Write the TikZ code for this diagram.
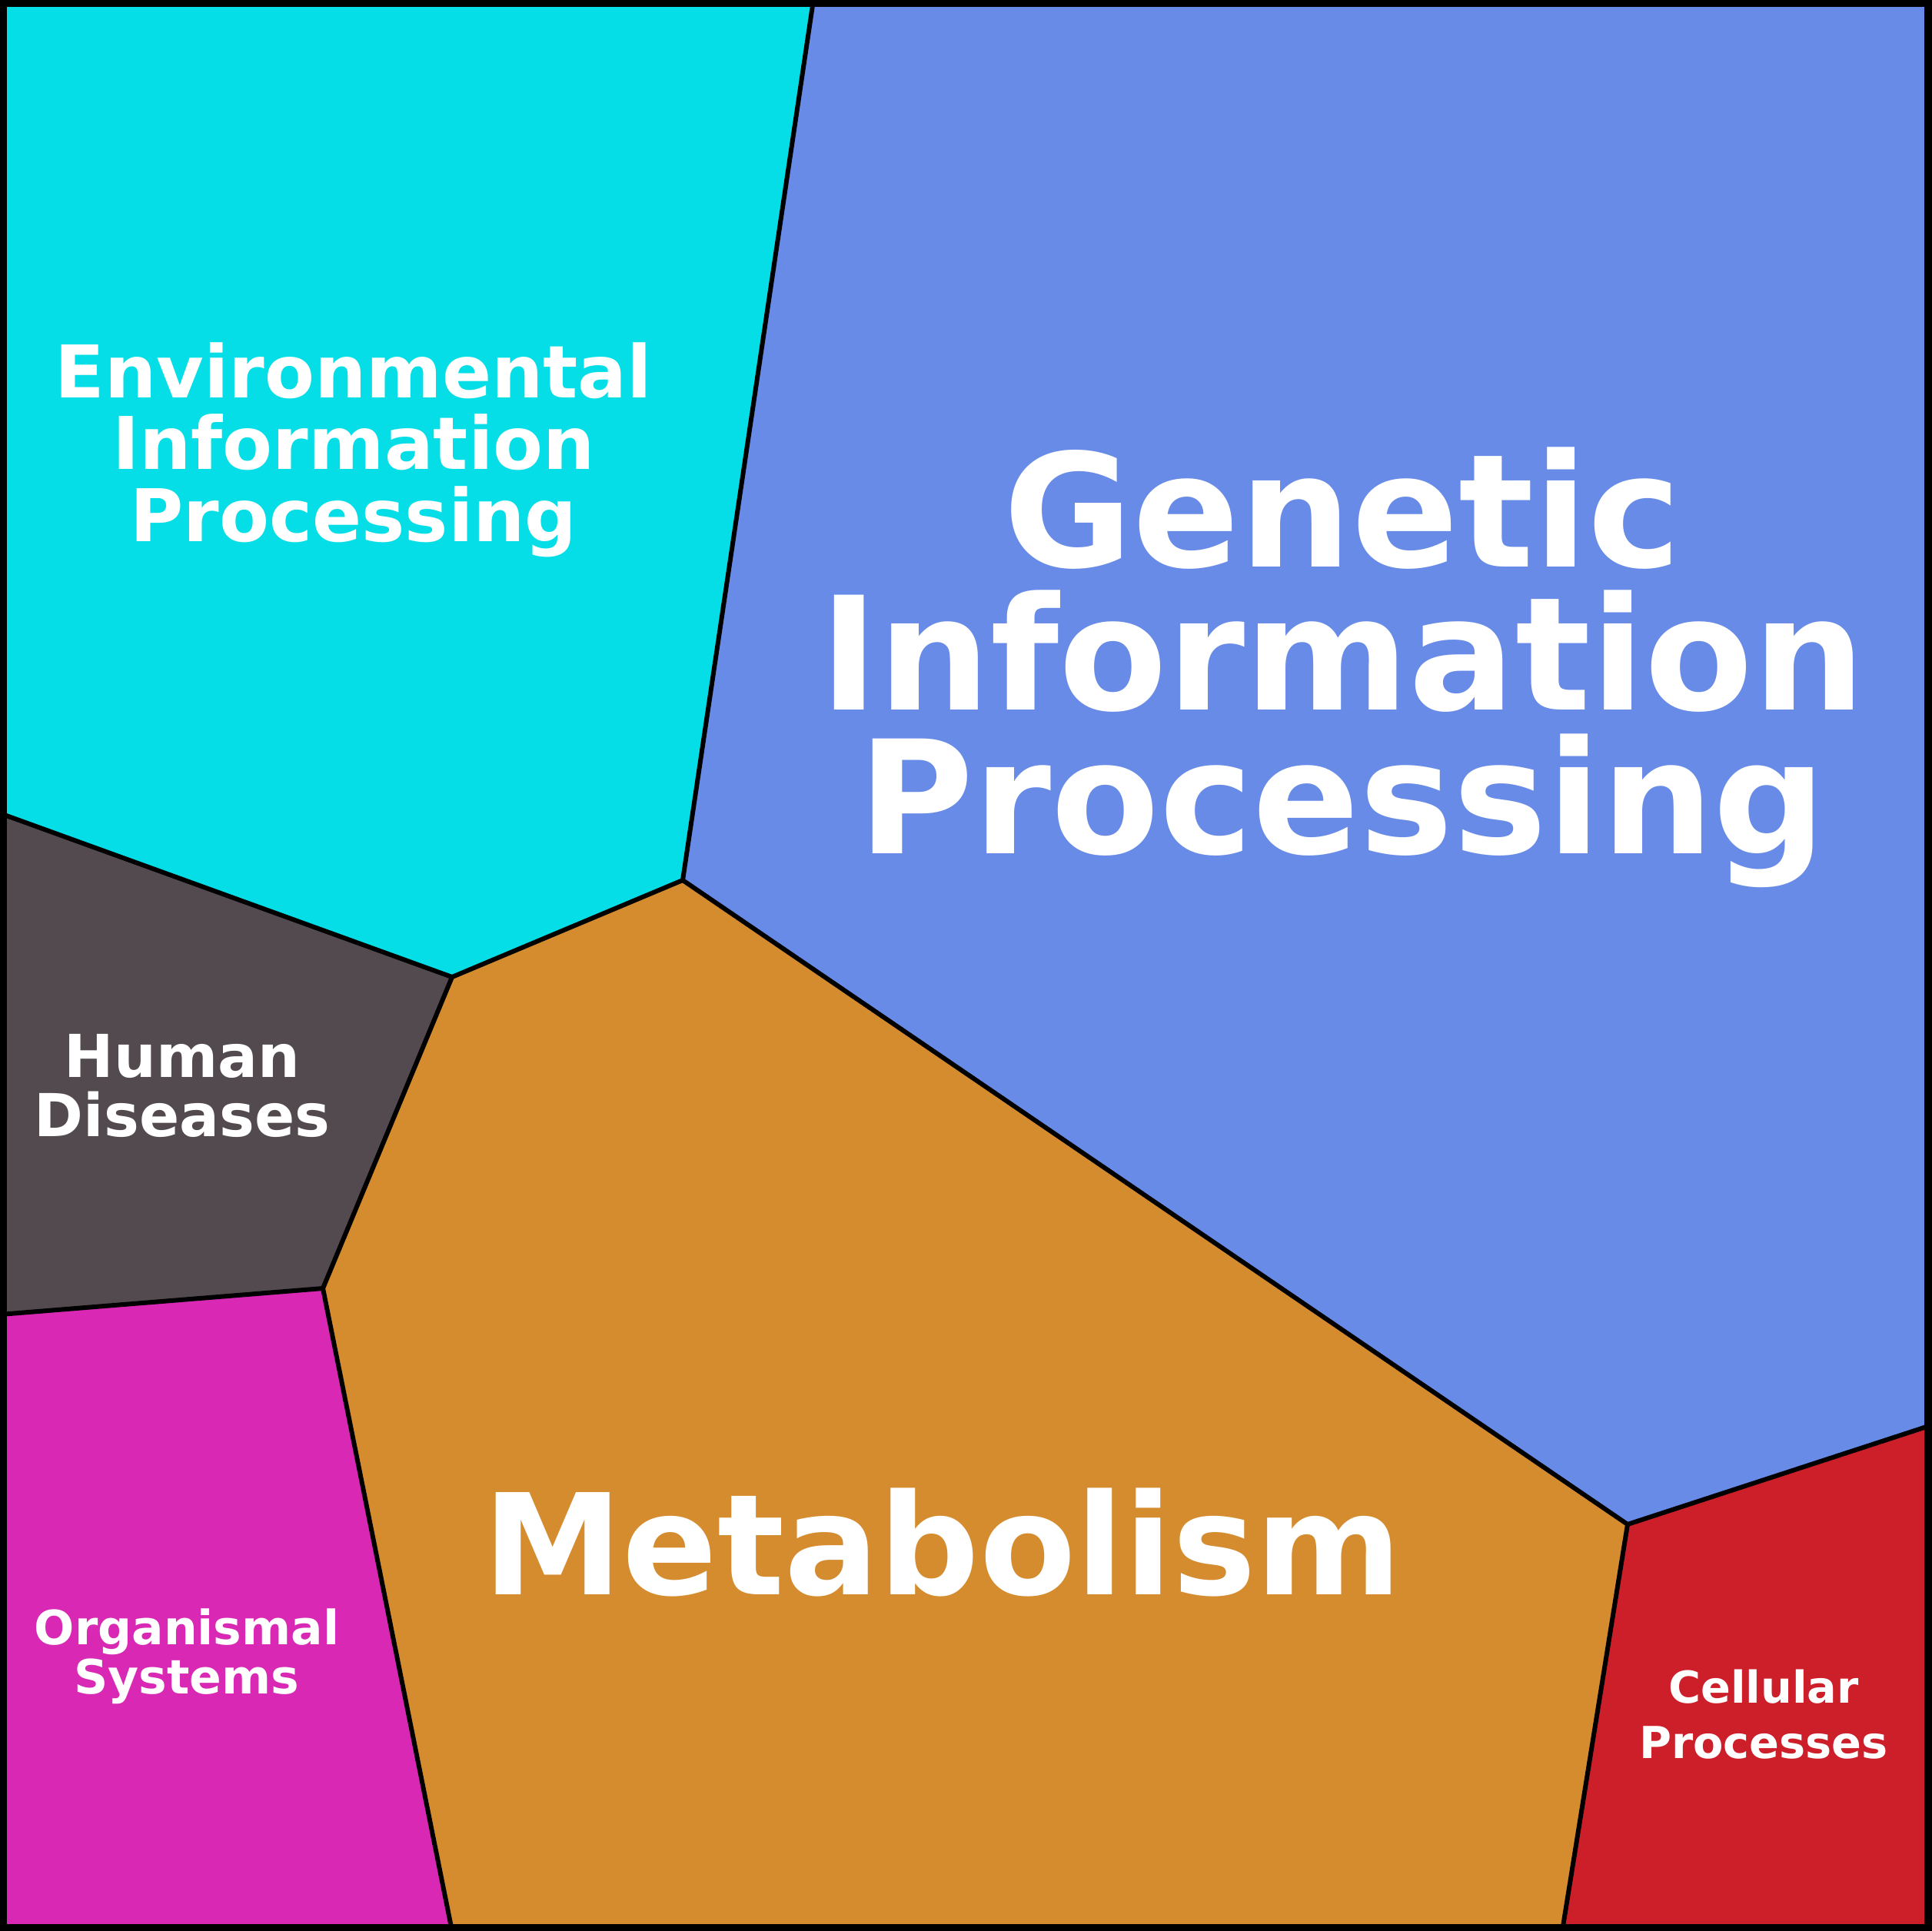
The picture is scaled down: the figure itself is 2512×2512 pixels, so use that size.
\documentclass[tikz,border=0pt]{standalone}
\usepackage{fontspec}
\setmainfont{DejaVu Sans}
\definecolor{env}{HTML}{05DEE6}
\definecolor{gen}{HTML}{688BE8}
\definecolor{met}{HTML}{D58C2F}
\definecolor{hum}{HTML}{524A4F}
\definecolor{org}{HTML}{D828B4}
\definecolor{cel}{HTML}{CD1F2A}
\begin{document}
\begin{tikzpicture}[x=0.2845pt,y=-0.2845pt,
  cell/.style={draw=black,line width=1.7pt,line join=round},
  lab/.style={text=white,align=center,inner sep=0pt}]
\useasboundingbox (0,0) rectangle (2512,2512);
\coordinate (T) at (1058,0);
\coordinate (A) at (888,1145);
\coordinate (B) at (588,1271);
\coordinate (L1) at (0,1058);
\coordinate (C) at (420,1676);
\coordinate (L2) at (0,1710);
\coordinate (D) at (588,2512);
\coordinate (E) at (2117,1983);
\coordinate (R) at (2512,1854);
\coordinate (F) at (2032,2512);
\fill[env] (0,0) -- (T) -- (A) -- (B) -- (L1) -- cycle;
\fill[gen] (T) -- (2512,0) -- (R) -- (E) -- (A) -- cycle;
\fill[hum] (L1) -- (B) -- (C) -- (L2) -- cycle;
\fill[met] (B) -- (A) -- (E) -- (F) -- (D) -- (C) -- cycle;
\fill[org] (L2) -- (C) -- (D) -- (0,2512) -- cycle;
\fill[cel] (E) -- (R) -- (2512,2512) -- (F) -- cycle;
\draw[cell] (T) -- (A) -- (B) -- (L1);
\draw[cell] (A) -- (E) -- (R);
\draw[cell] (B) -- (C) -- (L2);
\draw[cell] (C) -- (D);
\draw[cell] (E) -- (F);
\draw[line width=2.8pt] (4,4) rectangle (2508,2508);
\node[lab,font=\bfseries\fontsize{58.3}{53}\selectfont] (g) at (1746,868) {Genetic\\Information\\Processing};
\node[lab,font=\bfseries\fontsize{51.9}{58}\selectfont] (m) at (1226,2006) {Metabolism};
\node[lab,font=\bfseries\fontsize{26.9}{26.6}\selectfont] (e) at (460,585) {Environmental\\Information\\Processing};
\node[lab,font=\bfseries\fontsize{21.9}{21.9}\selectfont] (h) at (237,1412) {Human\\Diseases};
\node[lab,font=\bfseries\fontsize{17.5}{18.3}\selectfont] (o) at (243,2155) {Organismal\\Systems};
\node[lab,font=\bfseries\fontsize{16.3}{20.5}\selectfont] (c) at (2294,2230) {Cellular\\Processes};
\end{tikzpicture}
\end{document}
